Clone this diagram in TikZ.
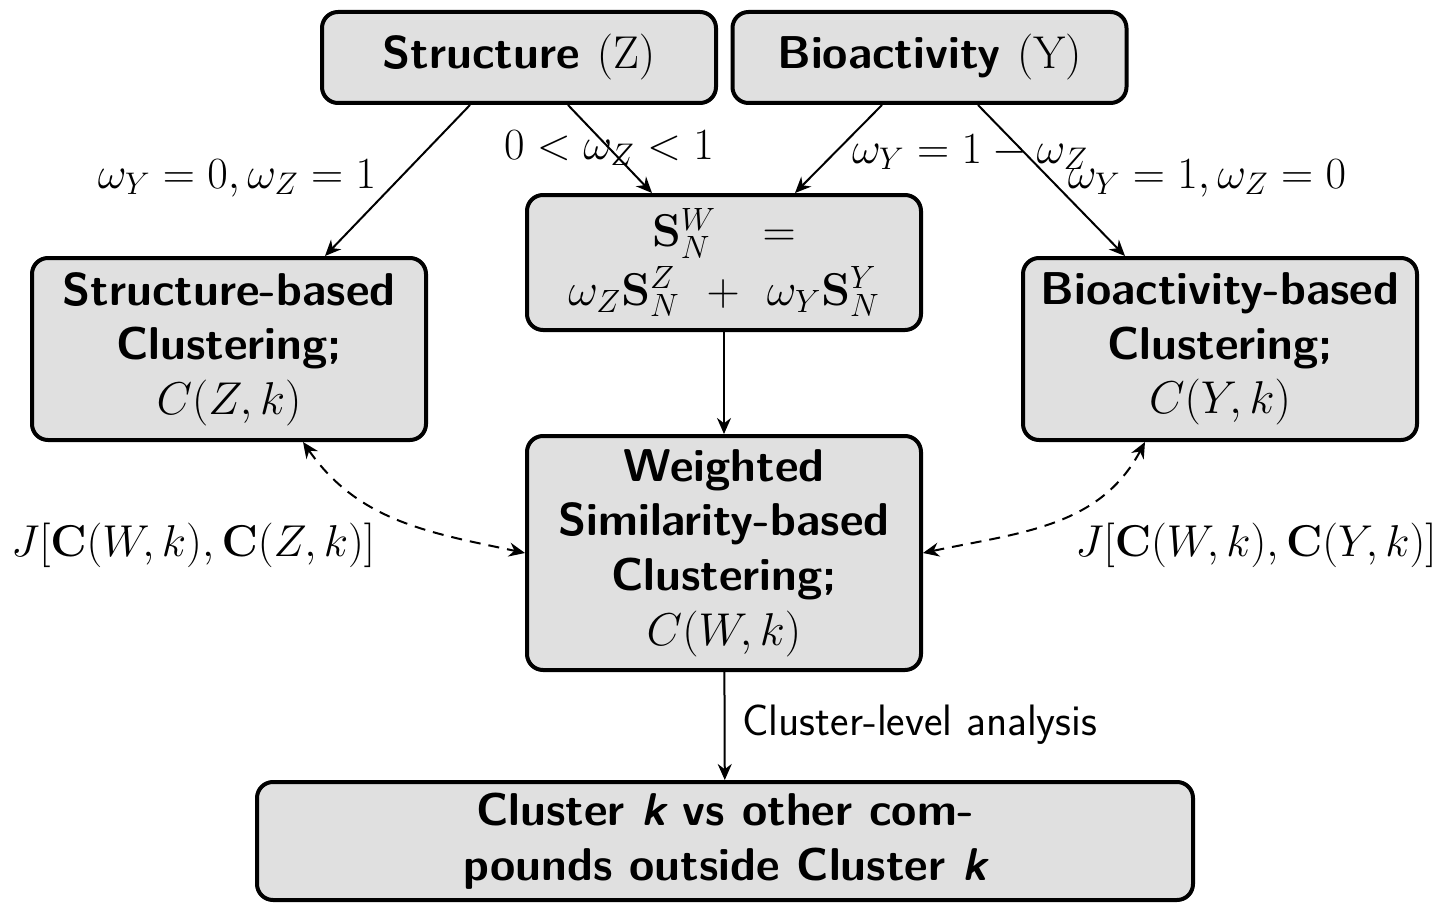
\RequirePackage{fix-cm}
\documentclass[tikz,border=0pt]{standalone}
\usetikzlibrary{arrows.meta,calc}
\begin{document}
\begin{tikzpicture}[x=0.5pt,y=-0.5pt,
  box/.style={draw=black, line width=2pt, rounded corners=8pt, fill=black!12,
    align=center, font=\fontsize{23}{27.3}\selectfont\sffamily\bfseries,
    inner sep=0pt, minimum width=197pt},
  arr/.style={-{Stealth[length=8pt,width=7pt]}, line width=1pt},
  darr/.style={{Stealth[length=8pt,width=7pt]}-{Stealth[length=8pt,width=7pt]},
    line width=1pt, dash pattern=on 5.5pt off 4pt},
  lab/.style={font=\fontsize{22.3}{26}\selectfont, inner sep=0pt},
  slab/.style={font=\fontsize{22}{26}\selectfont\sffamily, inner sep=0pt}
]
\useasboundingbox (0,0) rectangle (1441,904);

\node[box, minimum height=45.5pt] (sz) at (519,57.5) {Structure $(\mathrm{Z})$};
\node[box, minimum height=45.5pt] (by) at (929.5,57.5) {Bioactivity $(\mathrm{Y})$};
\node[box, minimum height=67.5pt] (snw) at (724,262.5)
  {$\mathbf{S}_N^W\ \ =$\\[2pt] $\omega_Z\mathbf{S}_N^Z\ +\ \omega_Y\mathbf{S}_N^Y$};
\node[box, minimum height=91pt] (sb) at (229,349) {Structure-based\\Clustering;\\$C(Z,k)$};
\node[box, minimum height=91pt] (bb) at (1220,349) {Bioactivity-based\\Clustering;\\$C(Y,k)$};
\node[box, minimum height=117pt] (ws) at (724,553)
  {Weighted\\Similarity-based\\Clustering;\\$C(W,k)$};
\node[box, minimum width=468pt, minimum height=59pt] (ck) at (725,841)
  {Cluster {\itshape k} vs other com-\\pounds outside Cluster {\itshape k}};

\draw[arr] ($(sz.south)+(-49,0)$) -- ($(sb.north)+(96,0)$);
\draw[arr] ($(sz.south)+(49,0)$) -- ($(snw.north)+(-72,0)$);
\draw[arr] ($(by.south)+(-47.5,0)$) -- ($(snw.north)+(71,0)$);
\draw[arr] ($(by.south)+(48.5,0)$) -- ($(bb.north)+(-95,0)$);
\draw[arr] (snw) -- (ws);
\draw[arr] (ws) -- (ck);

\node[lab] (l1) at (237,178) {$\omega_Y = 0, \omega_Z = 1$};
\node[lab] (l2) at (609,148) {$0 < \omega_Z < 1$};
\node[lab] (l3) at (970,152) {$\omega_Y = 1 - \omega_Z$};
\node[lab] (l4) at (1207,178) {$\omega_Y = 1, \omega_Z = 0$};
\node[slab, anchor=west] (l5) at (742,725) {Cluster-level analysis};

\draw[darr] ($(sb.south)+(74,0)$) to[out=-55, in=168] (ws.west);
\draw[darr] ($(bb.south)+(-75,0)$) to[out=-118, in=12] (ws.east);

\node[lab] (j1) at (193,545) {$J[\mathbf{C}(W,k),\mathbf{C}(Z,k)]$};
\node[lab] (j2) at (1256,545) {$J[\mathbf{C}(W,k),\mathbf{C}(Y,k)]$};
\end{tikzpicture}
\end{document}
